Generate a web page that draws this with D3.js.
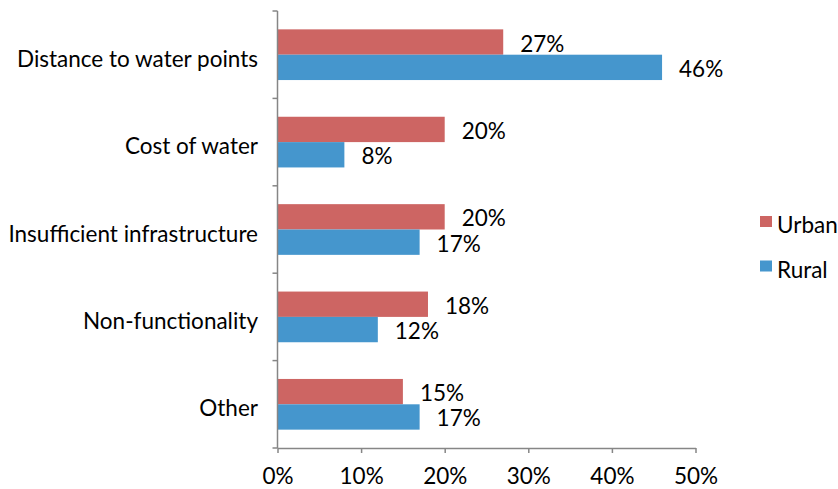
<!DOCTYPE html>
<html>
<head>
<meta charset="utf-8">
<script src="https://cdn.jsdelivr.net/npm/d3@7"></script>
<style>
  html, body { margin: 0; padding: 0; background: #fff; }
  svg text { font-family: Lato, "Open Sans", sans-serif; fill: #000; }
</style>
</head>
<body>
<svg id="chart" width="838" height="489"></svg>
<script>
// Reasons for water access problems, share of households
const categories = ["Distance to water points", "Cost of water", "Insufficient infrastructure", "Non-functionality", "Other"];
const seriesNames = ["Urban", "Rural"];
const urbanValues = [0.27, 0.20, 0.20, 0.18, 0.15];
const ruralValues = [0.46, 0.08, 0.17, 0.12, 0.17];
const xTicks = [0, 0.1, 0.2, 0.3, 0.4, 0.5];
const colors = { Urban: "#CD6563", Rural: "#4596CD" };

const svg = d3.select("#chart");
const margin = { left: 277.5, top: 11, bottom: 41 };
const H = 489;
const axisColor = "#868686";
const fontSize = 22.5;

const x = d3.scaleLinear().domain([0, 0.5]).range([margin.left, 695.5]);
const y = d3.scaleBand().domain(categories).range([margin.top, H - margin.bottom])
  .paddingInner(0.42).paddingOuter(0.21);
const ySub = d3.scaleBand().domain(seriesNames).range([0, y.bandwidth()]);

const rows = categories.map((c, i) => ({ category: c, Urban: urbanValues[i], Rural: ruralValues[i] }));

// bars
const groups = svg.append("g").selectAll("g").data(rows).join("g")
  .attr("transform", d => `translate(0,${y(d.category)})`);

groups.selectAll("rect").data(d => seriesNames.map(s => ({ s, v: d[s] }))).join("rect")
  .attr("x", x(0))
  .attr("y", d => ySub(d.s))
  .attr("width", d => x(d.v) - x(0))
  .attr("height", ySub.bandwidth())
  .attr("fill", d => colors[d.s]);

// value labels
groups.selectAll("text").data(d => seriesNames.map(s => ({ s, v: d[s] }))).join("text")
  .attr("x", d => x(d.v) + 17)
  .attr("y", d => ySub(d.s) + ySub.bandwidth() / 2 + 9.5)
  .attr("font-size", fontSize)
  .text(d => d3.format(".0%")(d.v));

// y axis: category boundaries as ticks
const yAxisG = svg.append("g");
yAxisG.append("line")
  .attr("x1", x(0)).attr("x2", x(0))
  .attr("y1", margin.top).attr("y2", H - margin.bottom)
  .attr("stroke", axisColor).attr("stroke-width", 1.5);
const boundaries = categories.map(c => y(c) - y.step() * y.paddingInner() / 2)
  .concat([H - margin.bottom]);
yAxisG.selectAll("line.tick").data(boundaries).join("line")
  .attr("class", "tick")
  .attr("x1", x(0) - 5).attr("x2", x(0))
  .attr("y1", d => d).attr("y2", d => d)
  .attr("stroke", axisColor).attr("stroke-width", 1.5);
yAxisG.selectAll("text").data(categories).join("text")
  .attr("x", 258)
  .attr("y", d => y(d) + y.bandwidth() / 2 + 12)
  .attr("text-anchor", "end")
  .attr("font-size", fontSize)
  .text(d => d);

// x axis
const xAxis = d3.axisBottom(x).tickValues(xTicks).tickFormat(d3.format(".0%"))
  .tickSize(5).tickSizeOuter(0);
const xAxisG = svg.append("g")
  .attr("transform", `translate(0,${H - margin.bottom})`)
  .call(xAxis);
xAxisG.select(".domain").attr("stroke", axisColor).attr("stroke-width", 1.5);
xAxisG.selectAll(".tick line").attr("stroke", axisColor).attr("stroke-width", 1.5);
xAxisG.selectAll(".tick text")
  .attr("font-size", fontSize)
  .attr("font-family", "Lato, 'Open Sans', sans-serif")
  .attr("fill", "#000")
  .attr("dy", null)
  .attr("y", 36);

// legend
const legend = svg.append("g").attr("transform", "translate(760,216)");
seriesNames.forEach((s, i) => {
  const g = legend.append("g").attr("transform", `translate(0,${i * 44.5})`);
  g.append("rect").attr("width", 12).attr("height", 11).attr("fill", colors[s]);
  g.append("text").attr("x", 17).attr("y", 17)
    .attr("font-size", fontSize).text(s);
});
</script>
</body>
</html>
